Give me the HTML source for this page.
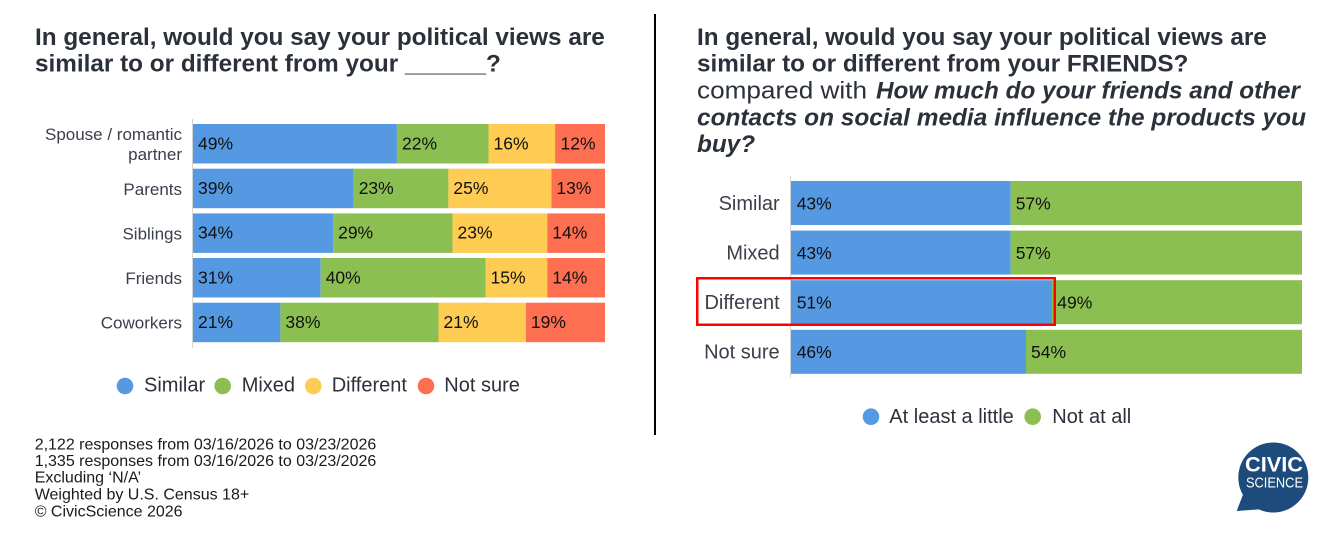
<!DOCTYPE html>
<html><head><meta charset="utf-8"><style>
html,body{margin:0;padding:0;background:#fff;}
svg{display:block;}
text{font-family:"Liberation Sans",Arial,sans-serif;}
</style></head><body>
<svg width="1334" height="539" viewBox="0 0 1334 539" xmlns="http://www.w3.org/2000/svg">
<rect width="1334" height="539" fill="#fff"/>
<!-- Left title -->
<g font-weight="bold" font-size="24.3" fill="#2b313b">
<text x="35" y="45">In general, would you say your political views are</text>
<text x="35" y="71.7">similar to or different from your ______?</text>
</g>
<!-- Divider -->
<rect x="654" y="14" width="2" height="421" fill="#000"/>
<!-- Left chart axis -->
<rect x="192" y="119" width="1" height="229" fill="#d4d4d4"/>
<!-- Left bars -->
<g>
<rect x="193" y="124" width="203.9" height="39.5" fill="#5599e3"/>
<rect x="396.9" y="124" width="91.6" height="39.5" fill="#8cbf51"/>
<rect x="488.5" y="124" width="66.6" height="39.5" fill="#fecb53"/>
<rect x="555.1" y="124" width="49.9" height="39.5" fill="#fe6f51"/>
<rect x="193" y="168.7" width="160.7" height="39.5" fill="#5599e3"/>
<rect x="353.7" y="168.7" width="94.7" height="39.5" fill="#8cbf51"/>
<rect x="448.4" y="168.7" width="103" height="39.5" fill="#fecb53"/>
<rect x="551.4" y="168.7" width="53.6" height="39.5" fill="#fe6f51"/>
<rect x="193" y="213.4" width="140.1" height="39.5" fill="#5599e3"/>
<rect x="333.1" y="213.4" width="119.4" height="39.5" fill="#8cbf51"/>
<rect x="452.5" y="213.4" width="94.8" height="39.5" fill="#fecb53"/>
<rect x="547.3" y="213.4" width="57.7" height="39.5" fill="#fe6f51"/>
<rect x="193" y="258" width="127.7" height="39.5" fill="#5599e3"/>
<rect x="320.7" y="258" width="164.8" height="39.5" fill="#8cbf51"/>
<rect x="485.5" y="258" width="61.8" height="39.5" fill="#fecb53"/>
<rect x="547.3" y="258" width="57.7" height="39.5" fill="#fe6f51"/>
<rect x="193" y="302.7" width="87.4" height="39.5" fill="#5599e3"/>
<rect x="280.4" y="302.7" width="158.1" height="39.5" fill="#8cbf51"/>
<rect x="438.5" y="302.7" width="87.4" height="39.5" fill="#fecb53"/>
<rect x="525.9" y="302.7" width="79.1" height="39.5" fill="#fe6f51"/>
</g>
<g font-size="17.5" fill="#111">
<text x="198" y="149.3">49%</text><text x="402" y="149.3">22%</text><text x="493.5" y="149.3">16%</text><text x="560.5" y="149.3">12%</text>
<text x="198" y="194">39%</text><text x="358.7" y="194">23%</text><text x="453.4" y="194">25%</text><text x="556.4" y="194">13%</text>
<text x="198" y="238.7">34%</text><text x="338.1" y="238.7">29%</text><text x="457.5" y="238.7">23%</text><text x="552.3" y="238.7">14%</text>
<text x="198" y="283.4">31%</text><text x="325.7" y="283.4">40%</text><text x="490.5" y="283.4">15%</text><text x="552.3" y="283.4">14%</text>
<text x="198" y="328.1">21%</text><text x="285.4" y="328.1">38%</text><text x="443.5" y="328.1">21%</text><text x="530.9" y="328.1">19%</text>
</g>
<g font-size="17" fill="#3a3f4a" text-anchor="end">
<text x="182" y="140">Spouse / romantic</text>
<text x="182" y="160">partner</text>
<text x="182" y="195">Parents</text>
<text x="182" y="239.5">Siblings</text>
<text x="182" y="284">Friends</text>
<text x="182" y="328.5">Coworkers</text>
</g>
<!-- Left legend -->
<g font-size="20" fill="#2b313b">
<circle cx="125" cy="386" r="8.3" fill="#5599e3"/><text x="144" y="391.7">Similar</text>
<circle cx="222.7" cy="386" r="8.3" fill="#8cbf51"/><text x="241.7" y="391.7">Mixed</text>
<circle cx="313.3" cy="386" r="8.3" fill="#fecb53"/><text x="331.7" y="391.7">Different</text>
<circle cx="426" cy="386" r="8.3" fill="#fe6f51"/><text x="444.3" y="391.7">Not sure</text>
</g>
<!-- Footnotes -->
<g font-size="16" fill="#1a1a1a">
<text x="34.7" y="449.3">2,122 responses from 03/16/2026 to 03/23/2026</text>
<text x="34.7" y="466">1,335 responses from 03/16/2026 to 03/23/2026</text>
<text x="34.7" y="482.7">Excluding ‘N/A’</text>
<text x="34.7" y="499.6">Weighted by U.S. Census 18+</text>
<text x="34.7" y="516.4">© CivicScience 2026</text>
</g>
<!-- Right title -->
<g font-size="24.3" fill="#2b313b">
<text x="697" y="45" font-weight="bold">In general, would you say your political views are</text>
<text x="697" y="71.7" font-weight="bold">similar to or different from your FRIENDS?</text>
<text x="697" y="98.5" textLength="170" lengthAdjust="spacingAndGlyphs">compared with</text>
<text x="876" y="98.5" font-weight="bold" font-style="italic" textLength="424" lengthAdjust="spacingAndGlyphs">How much do your friends and other</text>
<text x="697" y="125.3" font-weight="bold" font-style="italic" textLength="609" lengthAdjust="spacingAndGlyphs">contacts on social media influence the products you</text>
<text x="697" y="152" font-weight="bold" font-style="italic">buy?</text>
</g>
<!-- Right chart -->
<rect x="790" y="176" width="1" height="202" fill="#d4d4d4"/>
<rect x="791" y="181" width="219.7" height="44" fill="#5599e3"/>
<rect x="1010.7" y="181" width="291.3" height="44" fill="#8cbf51"/>
<rect x="791" y="230.6" width="219.7" height="44" fill="#5599e3"/>
<rect x="1010.7" y="230.6" width="291.3" height="44" fill="#8cbf51"/>
<rect x="791" y="280.2" width="261" height="44" fill="#5599e3"/>
<rect x="1052" y="280.2" width="250" height="44" fill="#8cbf51"/>
<rect x="791" y="329.8" width="235" height="44" fill="#5599e3"/>
<rect x="1026" y="329.8" width="276" height="44" fill="#8cbf51"/>
<g font-size="17.5" fill="#111">
<text x="796.7" y="209.3">43%</text><text x="1015.7" y="209.3">57%</text>
<text x="796.7" y="258.9">43%</text><text x="1015.7" y="258.9">57%</text>
<text x="796.7" y="308.5">51%</text><text x="1057.3" y="308.5">49%</text>
<text x="796.7" y="358.1">46%</text><text x="1031" y="358.1">54%</text>
</g>
<g font-size="20" fill="#3a3f4a" text-anchor="end">
<text x="779.7" y="210">Similar</text>
<text x="779.7" y="259.3">Mixed</text>
<text x="779.7" y="309">Different</text>
<text x="779.7" y="358.7">Not sure</text>
</g>
<rect x="697.25" y="278.25" width="357.5" height="46.5" fill="none" stroke="#ff0000" stroke-width="2.5"/>
<!-- Right legend -->
<g font-size="20" fill="#2b313b">
<circle cx="871" cy="416.7" r="8.3" fill="#5599e3"/><text x="889.3" y="423">At least a little</text>
<circle cx="1032.7" cy="416.7" r="8.3" fill="#8cbf51"/><text x="1052.3" y="423">Not at all</text>
</g>
<!-- Logo -->
<g>
<circle cx="1273.3" cy="477.5" r="35" fill="#1d4b7c"/>
<polygon points="1244,492 1236.7,511 1264,509" fill="#1d4b7c"/>
<text x="1274" y="471.7" font-size="21" font-weight="bold" fill="#fff" text-anchor="middle" textLength="58" lengthAdjust="spacingAndGlyphs">CIVIC</text>
<text x="1274.5" y="487.7" font-size="15" fill="#fff" text-anchor="middle" textLength="57" lengthAdjust="spacingAndGlyphs">SCIENCE</text>
</g>
</svg>
</body></html>
